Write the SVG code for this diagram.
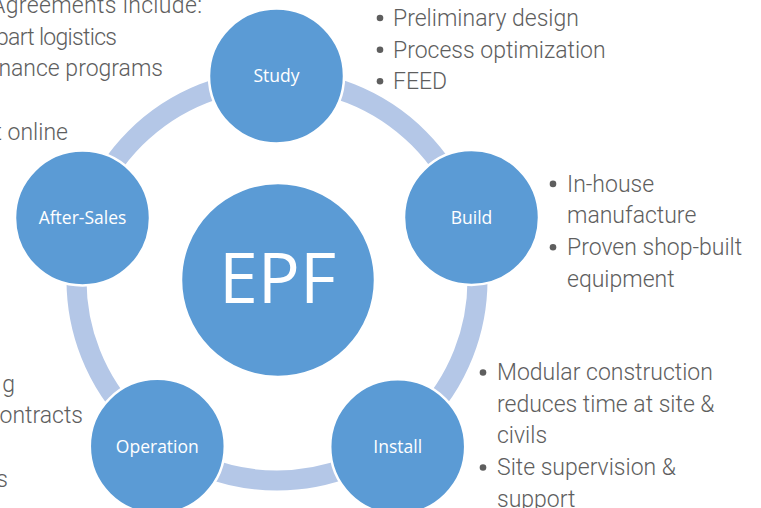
<svg xmlns="http://www.w3.org/2000/svg" width="761" height="508" viewBox="0 0 761 508">
<style>
.ring{fill:none;stroke:#B4C7E7;stroke-width:20}
.node{fill:#5B9BD5;stroke:#FFFFFF;stroke-width:2.5}
.lbl{font-family:"Open Sans","Noto Sans",sans-serif;font-size:17.5px;fill:#FFFFFF;text-anchor:middle}
.big{font-family:"Open Sans","Noto Sans",sans-serif;font-size:70px;fill:#FFFFFF;text-anchor:middle}
.txt{font-family:Roboto,"Liberation Sans",sans-serif;font-weight:300;font-size:23px;fill:#5E5E5E}
.end{text-anchor:end}
.bul{fill:#5E5E5E}
</style>
<rect width="761" height="508" fill="#FFFFFF"/>
<g id="connectors">
<circle class="ring" cx="277" cy="280" r="200.5"/>
</g>
<g id="node-epf">
<circle class="node" cx="278" cy="280" r="97"/>
<text class="big" x="277.5" y="303">EPF</text>
</g>
<g id="node-study">
<circle class="node" cx="276.5" cy="76" r="67.5"/>
<text class="lbl" x="276.5" y="82">Study</text>
</g>
<g id="node-build">
<circle class="node" cx="471.5" cy="217.5" r="67.5"/>
<text class="lbl" x="471.5" y="223.5">Build</text>
</g>
<g id="node-install">
<circle class="node" cx="397.7" cy="446.8" r="67.5"/>
<text class="lbl" x="397.7" y="452.8">Install</text>
</g>
<g id="node-operation">
<circle class="node" cx="157.3" cy="446.3" r="67.5"/>
<text class="lbl" x="157.3" y="452.5">Operation</text>
</g>
<g id="node-aftersales">
<circle class="node" cx="82.5" cy="218" r="67.5"/>
<text class="lbl" x="82.5" y="223.5">After-Sales</text>
</g>
<g id="text-study">
<circle class="bul" cx="380" cy="18" r="3.3"/>
<circle class="bul" cx="380" cy="49.7" r="3.3"/>
<circle class="bul" cx="380" cy="81.3" r="3.3"/>
<text class="txt" x="393" y="26">Preliminary design</text>
<text class="txt" x="393" y="57.7">Process optimization</text>
<text class="txt" x="393" y="89.3">FEED</text>
</g>
<g id="text-build">
<circle class="bul" cx="553" cy="183.9" r="3.3"/>
<circle class="bul" cx="553" cy="247.2" r="3.3"/>
<text class="txt" x="567" y="191.7">In-house</text>
<text class="txt" x="567" y="223.4">manufacture</text>
<text class="txt" x="567" y="255">Proven shop-built</text>
<text class="txt" x="567" y="286.7">equipment</text>
</g>
<g id="text-install">
<circle class="bul" cx="483" cy="372.5" r="3.3"/>
<circle class="bul" cx="483" cy="467.5" r="3.3"/>
<text class="txt" x="497" y="380">Modular construction</text>
<text class="txt" x="497" y="411.7">reduces time at site &amp;</text>
<text class="txt" x="497" y="443.4">civils</text>
<text class="txt" x="497" y="475">Site supervision &amp;</text>
<text class="txt" x="497" y="506.7">support</text>
</g>
<g id="text-left">
<text class="txt end" x="202" y="13" textLength="211" lengthAdjust="spacing">Agreements include:</text>
<text class="txt end" x="117" y="44.6" textLength="121" lengthAdjust="spacing">part logistics</text>
<text class="txt end" x="163" y="76.2">nance programs</text>
<text class="txt end" x="68" y="139.5">t online</text>
<text class="txt end" x="15" y="391.7">g</text>
<text class="txt end" x="83" y="423.3">ontracts</text>
<text class="txt end" x="8" y="486.7">s</text>
</g>
</svg>
